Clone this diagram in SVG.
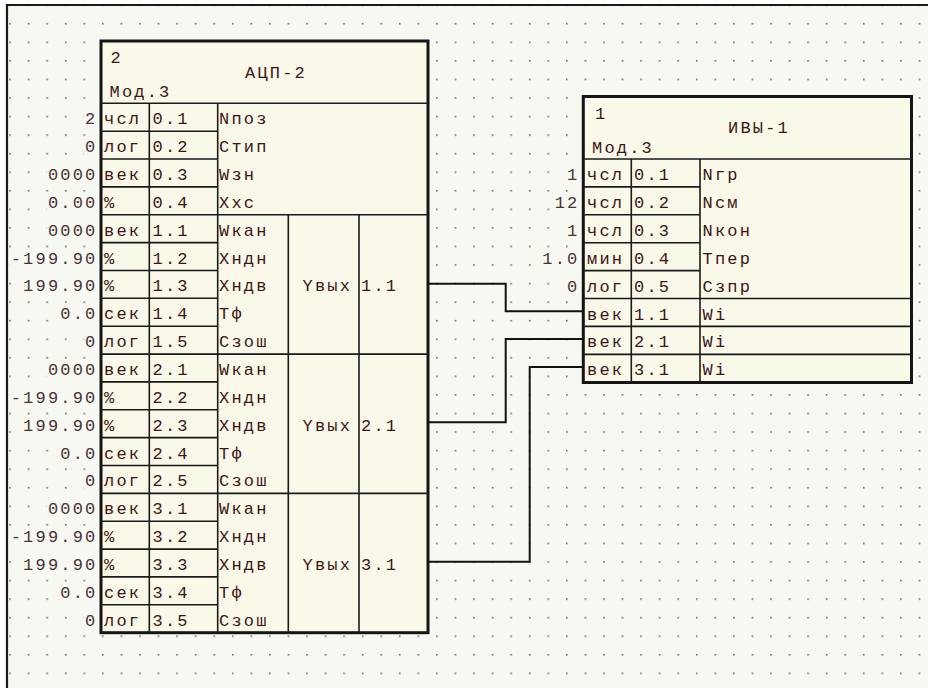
<svg xmlns="http://www.w3.org/2000/svg" width="928" height="688" viewBox="0 0 928 688">
<style>
.bg{fill:#f8f8f3}
.vb{fill:#f8f8f3}
.box{fill:#faf8e9;stroke:#151515;stroke-width:3}
.ln{stroke:#1a1a1a;stroke-width:1.6;fill:none}
.t{font-family:"Liberation Mono","DejaVu Sans Mono",monospace;font-size:17px;letter-spacing:2.2px;fill:#3c1616}
.v{font-family:"Liberation Mono","DejaVu Sans Mono",monospace;font-size:17px;letter-spacing:2.2px;fill:#4a3232;text-anchor:end}
.m{text-anchor:middle}
.c{stroke:#111;stroke-width:2;fill:none}
</style>
<defs>
<pattern id="grid" patternUnits="userSpaceOnUse" x="9.2" y="22.9" width="18.56" height="18.56">
<rect x="0" y="0" width="1.6" height="1.6" fill="#6a6a6a"/>
</pattern>
</defs>
<rect x="0" y="0" width="928" height="688" fill="#ffffff"/>
<rect x="7" y="5" width="921" height="683" class="bg"/>
<rect x="8" y="6" width="920" height="682" fill="url(#grid)"/>
<path d="M7 688V5H928" stroke="#1a1a1a" stroke-width="2.2" fill="none"/>

<g id="connectors">
<path class="c" d="M428 283.7H505.7V311.3H583.3"/>
<path class="c" d="M428 422.3H505.7V339H583.3"/>
<path class="c" d="M428 561.7H529.7V367H583.3"/>
</g>

<g id="node-adc2">
<rect x="101" y="41" width="327" height="591.7" class="box"/>
<path class="ln" d="M101 103.3H428M101 214.8H428M101 354.1H428M101 493.4H428"/>
<path class="ln" d="M101 131.2H217.7M101 159H217.7M101 186.9H217.7M101 242.6H217.7M101 270.5H217.7M101 298.3H217.7M101 326.2H217.7M101 381.9H217.7M101 409.8H217.7M101 437.6H217.7M101 465.5H217.7M101 521.2H217.7M101 549.1H217.7M101 576.9H217.7M101 604.8H217.7"/>
<path class="ln" d="M149.3 103.3V632.7M217.7 103.3V632.7M288.3 214.8V632.7M359 214.8V632.7"/>
<text class="t" x="110.5" y="63">2</text>
<text class="t m" x="276" y="77.5">АЦП-2</text>
<text class="t" x="109.5" y="97">Мод.3</text>
<g>
<rect class="vb" x="83.6" y="112.2" width="14.4" height="15"/>
<rect class="vb" x="83.6" y="140.1" width="14.4" height="15"/>
<rect class="vb" x="46.4" y="168" width="51.6" height="15"/>
<rect class="vb" x="46.4" y="195.8" width="51.6" height="15"/>
<rect class="vb" x="46.4" y="223.7" width="51.6" height="15"/>
<rect class="vb" x="9.2" y="251.5" width="88.8" height="15"/>
<rect class="vb" x="21.6" y="279.4" width="76.4" height="15"/>
<rect class="vb" x="58.8" y="307.3" width="39.2" height="15"/>
<rect class="vb" x="83.6" y="335.1" width="14.4" height="15"/>
<rect class="vb" x="46.4" y="363" width="51.6" height="15"/>
<rect class="vb" x="9.2" y="390.8" width="88.8" height="15"/>
<rect class="vb" x="21.6" y="418.7" width="76.4" height="15"/>
<rect class="vb" x="58.8" y="446.6" width="39.2" height="15"/>
<rect class="vb" x="83.6" y="474.4" width="14.4" height="15"/>
<rect class="vb" x="46.4" y="502.3" width="51.6" height="15"/>
<rect class="vb" x="9.2" y="530.1" width="88.8" height="15"/>
<rect class="vb" x="21.6" y="558" width="76.4" height="15"/>
<rect class="vb" x="58.8" y="585.9" width="39.2" height="15"/>
<rect class="vb" x="83.6" y="613.7" width="14.4" height="15"/>
</g>
<g>
<text class="v" x="97.5" y="124.2">2</text>
<text class="v" x="97.5" y="152.1">0</text>
<text class="v" x="97.5" y="180">0000</text>
<text class="v" x="97.5" y="207.8">0.00</text>
<text class="v" x="97.5" y="235.7">0000</text>
<text class="v" x="97.5" y="263.5">-199.90</text>
<text class="v" x="97.5" y="291.4">199.90</text>
<text class="v" x="97.5" y="319.3">0.0</text>
<text class="v" x="97.5" y="347.1">0</text>
<text class="v" x="97.5" y="375">0000</text>
<text class="v" x="97.5" y="402.8">-199.90</text>
<text class="v" x="97.5" y="430.7">199.90</text>
<text class="v" x="97.5" y="458.6">0.0</text>
<text class="v" x="97.5" y="486.4">0</text>
<text class="v" x="97.5" y="514.3">0000</text>
<text class="v" x="97.5" y="542.1">-199.90</text>
<text class="v" x="97.5" y="570">199.90</text>
<text class="v" x="97.5" y="597.9">0.0</text>
<text class="v" x="97.5" y="625.7">0</text>
</g>
<g>
<text class="t" x="104" y="124.2">чсл</text>
<text class="t" x="104" y="152.1">лог</text>
<text class="t" x="104" y="180">век</text>
<text class="t" x="104" y="207.8">%</text>
<text class="t" x="104" y="235.7">век</text>
<text class="t" x="104" y="263.5">%</text>
<text class="t" x="104" y="291.4">%</text>
<text class="t" x="104" y="319.3">сек</text>
<text class="t" x="104" y="347.1">лог</text>
<text class="t" x="104" y="375">век</text>
<text class="t" x="104" y="402.8">%</text>
<text class="t" x="104" y="430.7">%</text>
<text class="t" x="104" y="458.6">сек</text>
<text class="t" x="104" y="486.4">лог</text>
<text class="t" x="104" y="514.3">век</text>
<text class="t" x="104" y="542.1">%</text>
<text class="t" x="104" y="570">%</text>
<text class="t" x="104" y="597.9">сек</text>
<text class="t" x="104" y="625.7">лог</text>
</g>
<g>
<text class="t" x="152.5" y="124.2">0.1</text>
<text class="t" x="152.5" y="152.1">0.2</text>
<text class="t" x="152.5" y="180">0.3</text>
<text class="t" x="152.5" y="207.8">0.4</text>
<text class="t" x="152.5" y="235.7">1.1</text>
<text class="t" x="152.5" y="263.5">1.2</text>
<text class="t" x="152.5" y="291.4">1.3</text>
<text class="t" x="152.5" y="319.3">1.4</text>
<text class="t" x="152.5" y="347.1">1.5</text>
<text class="t" x="152.5" y="375">2.1</text>
<text class="t" x="152.5" y="402.8">2.2</text>
<text class="t" x="152.5" y="430.7">2.3</text>
<text class="t" x="152.5" y="458.6">2.4</text>
<text class="t" x="152.5" y="486.4">2.5</text>
<text class="t" x="152.5" y="514.3">3.1</text>
<text class="t" x="152.5" y="542.1">3.2</text>
<text class="t" x="152.5" y="570">3.3</text>
<text class="t" x="152.5" y="597.9">3.4</text>
<text class="t" x="152.5" y="625.7">3.5</text>
</g>
<g>
<text class="t" x="219" y="124.2">Nпоз</text>
<text class="t" x="219" y="152.1">Стип</text>
<text class="t" x="219" y="180">Wзн</text>
<text class="t" x="219" y="207.8">Xхс</text>
<text class="t" x="219" y="235.7">Wкан</text>
<text class="t" x="219" y="263.5">Xндн</text>
<text class="t" x="219" y="291.4">Xндв</text>
<text class="t" x="219" y="319.3">Тф</text>
<text class="t" x="219" y="347.1">Сзош</text>
<text class="t" x="219" y="375">Wкан</text>
<text class="t" x="219" y="402.8">Xндн</text>
<text class="t" x="219" y="430.7">Xндв</text>
<text class="t" x="219" y="458.6">Тф</text>
<text class="t" x="219" y="486.4">Сзош</text>
<text class="t" x="219" y="514.3">Wкан</text>
<text class="t" x="219" y="542.1">Xндн</text>
<text class="t" x="219" y="570">Xндв</text>
<text class="t" x="219" y="597.9">Тф</text>
<text class="t" x="219" y="625.7">Сзош</text>
</g>
<text class="t" x="302.5" y="291.4">Yвых</text>
<text class="t" x="361" y="291.4">1.1</text>
<text class="t" x="302.5" y="430.7">Yвых</text>
<text class="t" x="361" y="430.7">2.1</text>
<text class="t" x="302.5" y="570">Yвых</text>
<text class="t" x="361" y="570">3.1</text>
</g>

<g id="node-ivy1">
<rect class="vb" x="564.4" y="168" width="14.4" height="15"/>
<rect class="vb" x="552" y="195.9" width="26.8" height="15"/>
<rect class="vb" x="564.4" y="223.8" width="14.4" height="15"/>
<rect class="vb" x="539.6" y="251.7" width="39.2" height="15"/>
<rect class="vb" x="564.4" y="279.6" width="14.4" height="15"/>
<rect x="583.3" y="96.5" width="328.2" height="286" class="box"/>
<path class="ln" d="M583.3 159H911.5M583.3 298.5H911.5M583.3 326.4H911.5M583.3 354.4H911.5"/>
<path class="ln" d="M583.3 186.9H700M583.3 214.8H700M583.3 242.7H700M583.3 270.6H700"/>
<path class="ln" d="M631.3 159V382.5M700 159V382.5"/>
<text class="t" x="595" y="118.7">1</text>
<text class="t m" x="759" y="132.7">ИВЫ-1</text>
<text class="t" x="592" y="152.5">Мод.3</text>
<text class="v" x="579.5" y="180">1</text>
<text class="v" x="579.5" y="207.9">12</text>
<text class="v" x="579.5" y="235.8">1</text>
<text class="v" x="579.5" y="263.7">1.0</text>
<text class="v" x="579.5" y="291.6">0</text>
<text class="t" x="587" y="180">чсл</text>
<text class="t" x="587" y="207.9">чсл</text>
<text class="t" x="587" y="235.8">чсл</text>
<text class="t" x="587" y="263.7">мин</text>
<text class="t" x="587" y="291.6">лог</text>
<text class="t" x="587" y="319.5">век</text>
<text class="t" x="587" y="347.4">век</text>
<text class="t" x="587" y="375.3">век</text>
<text class="t" x="634" y="180">0.1</text>
<text class="t" x="634" y="207.9">0.2</text>
<text class="t" x="634" y="235.8">0.3</text>
<text class="t" x="634" y="263.7">0.4</text>
<text class="t" x="634" y="291.6">0.5</text>
<text class="t" x="634" y="319.5">1.1</text>
<text class="t" x="634" y="347.4">2.1</text>
<text class="t" x="634" y="375.3">3.1</text>
<text class="t" x="702.5" y="180">Nгр</text>
<text class="t" x="702.5" y="207.9">Nсм</text>
<text class="t" x="702.5" y="235.8">Nкон</text>
<text class="t" x="702.5" y="263.7">Тпер</text>
<text class="t" x="702.5" y="291.6">Сзпр</text>
<text class="t" x="702.5" y="319.5">Wi</text>
<text class="t" x="702.5" y="347.4">Wi</text>
<text class="t" x="702.5" y="375.3">Wi</text>
</g>
</svg>
